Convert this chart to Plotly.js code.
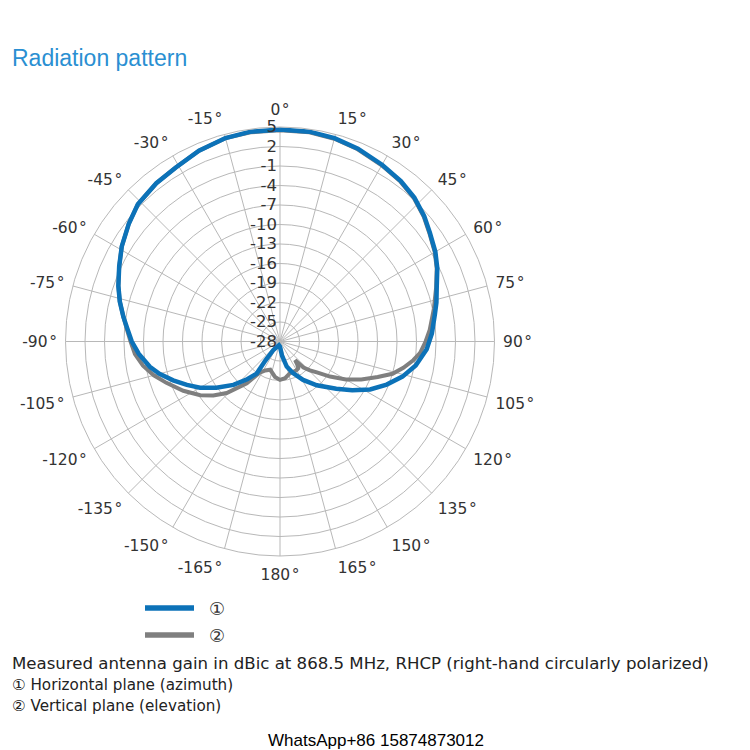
<!DOCTYPE html>
<html>
<head>
<meta charset="utf-8">
<script src="https://cdn.plot.ly/plotly-3.0.1.min.js"></script>
<style>html,body{margin:0;padding:0;background:#fff;}#chart{width:750px;height:750px;}</style>
</head>
<body>
<div id="chart"></div>
<script>
// Horizontal plane (azimuth) — blue, angle in degrees (clockwise from top), gain in dBic
const azimuthAngles = [0, 8, 15, 22, 30, 37, 43, 49, 54, 60, 65, 71, 76, 80, 87, 93, 100, 106, 112, 118, 124, 130, 140, 149, 158, 165, 172, 180,
  -164, -155, -146, -142, -142.5, -144, -139, -133, -126, -120, -115, -110, -105, -101, -95, -90, -85, -81, -76, -71, -65, -59, -52, -46, -38, -31, -23, -15, -8, 0];
const azimuthGain = [4.6, 4.6, 4.4, 4.0, 3.4, 2.9, 2.3, 1.4, 0.5, -0.4, -1.3, -2.5, -3.2, -3.8, -4.6, -5.4, -6.8, -8.4, -10.3, -12.3, -14.6, -16.7, -19.2, -21.1, -22.8, -24.0, -25.8, -27.2,
  -27.4, -27.2, -26.8, -26.3, -24.3, -21.9, -20.3, -18.2, -15.9, -13.8, -12.2, -10.5, -8.8, -7.6, -6.2, -5.2, -4.4, -3.6, -2.6, -1.7, -0.7, 0.4, 1.5, 2.4, 2.9, 3.2, 3.9, 4.4, 4.6, 4.6];

// Vertical plane (elevation) — grey
const elevationAngles = [0, 8, 15, 22, 30, 37, 43, 49, 54, 60, 65, 71, 78, 85.6, 90, 94.8, 98, 102, 106, 110, 115, 120, 125, 130, 134, 138, 141, 143, 146, 150, 156, 162.5, 172, 180,
  -172, -161, -153, -147, -141.5, -134, -129, -124, -117, -110, -105, -100, -95, -90, -85, -81, -76, -71, -65, -59, -52, -46, -38, -31, -23, -15, -8, 0];
const elevationGain = [4.5, 4.5, 4.3, 3.9, 3.3, 2.8, 2.2, 1.3, 0.4, -0.5, -1.4, -2.6, -3.8, -4.9, -5.6, -6.4, -7.3, -8.6, -10.0, -12.0, -14.2, -16.3, -18.6, -20.6, -21.6, -22.6, -24.3, -23.6, -23.0, -22.9, -22.9, -22.9, -22.3, -22.1,
  -22.5, -23.4, -23.0, -22.3, -19.8, -16.6, -14.8, -13.2, -11.3, -9.4, -7.9, -6.6, -5.6, -5.0, -4.3, -3.6, -2.6, -1.7, -0.7, 0.4, 1.5, 2.4, 2.9, 3.2, 3.9, 4.4, 4.5, 4.5];

const radialTicks = [-28, -25, -22, -19, -16, -13, -10, -7, -4, -1, 2, 5];
const angleTickVals = [0, 15, 30, 45, 60, 75, 90, 105, 120, 135, 150, 165, 180, 195, 210, 225, 240, 255, 270, 285, 300, 315, 330, 345];
const angleTickText = ['0°', '15°', '30°', '45°', '60°', '75°', '90°', '105°', '120°', '135°', '150°', '165°', '180°',
  '-165°', '-150°', '-135°', '-120°', '-105°', '-90°', '-75°', '-60°', '-45°', '-30°', '-15°'];

const seriesNames = ['①', '②'];
const titleText = 'Radiation pattern';
const captionText = 'Measured antenna gain in dBic at 868.5 MHz, RHCP (right-hand circularly polarized)';
const noteLines = ['① Horizontal plane (azimuth)', '② Vertical plane (elevation)'];
const footerText = 'WhatsApp+86 15874873012';

const BLUE = '#0c72b8';
const GREY = '#7f7f7f';
const TXT = '#333333';
const FONT = 'Liberation Sans, Arial, sans-serif';
const WIDE = 'DejaVu Sans, Liberation Sans, sans-serif';

// degree sign set slightly apart, as in the reference
const spacedTicks = angleTickText.map(t => t.replace('°', '\u200A°'));

const traces = [
  {type: 'scatterpolar', mode: 'lines', r: elevationGain, theta: elevationAngles, name: seriesNames[1],
   line: {color: GREY, width: 4}, showlegend: false, hoverinfo: 'skip'},
  {type: 'scatterpolar', mode: 'lines', r: azimuthGain, theta: azimuthAngles, name: seriesNames[0],
   line: {color: BLUE, width: 4.5}, showlegend: false, hoverinfo: 'skip'}
];

const layout = {
  width: 750, height: 750,
  margin: {l: 0, r: 0, t: 0, b: 0},
  paper_bgcolor: '#fff',
  showlegend: false,
  font: {family: FONT, color: TXT},
  polar: {
    domain: {x: [65.5/750, 494.5/750], y: [1 - 556/750, 1 - 127/750]},
    bgcolor: '#fff',
    radialaxis: {
      range: [-28, 5], tickmode: 'array', tickvals: radialTicks, ticktext: radialTicks.map(String),
      angle: 90, tickangle: 90, side: 'counterclockwise', showline: false, ticks: '',
      gridcolor: '#b8b8b8', gridwidth: 1, tickfont: {size: 16.5, color: TXT, family: WIDE}
    },
    angularaxis: {
      rotation: 90, direction: 'clockwise', tickmode: 'array', tickvals: angleTickVals, ticktext: spacedTicks,
      gridcolor: '#b8b8b8', gridwidth: 1, linecolor: '#b8b8b8', linewidth: 1,
      ticks: 'outside', ticklen: 5, tickcolor: 'rgba(0,0,0,0)',
      tickfont: {size: 15.5, color: TXT, family: WIDE}
    }
  },
  shapes: [
    {type: 'line', xref: 'paper', yref: 'paper', x0: 145/750, x1: 194/750, y0: 1 - 608/750, y1: 1 - 608/750, line: {color: BLUE, width: 5.5}},
    {type: 'line', xref: 'paper', yref: 'paper', x0: 145/750, x1: 194/750, y0: 1 - 635/750, y1: 1 - 635/750, line: {color: GREY, width: 5.5}}
  ],
  annotations: [
    {text: titleText, xref: 'paper', yref: 'paper', x: 10/750, y: 1 - 58/750, xanchor: 'left', yanchor: 'middle', showarrow: false,
     font: {size: 23, color: '#2a8fd2', family: FONT}},
    {text: seriesNames[0], xref: 'paper', yref: 'paper', x: 207/750, y: 1 - 608/750, xanchor: 'left', yanchor: 'middle', showarrow: false,
     font: {size: 18, color: TXT, family: WIDE}},
    {text: seriesNames[1], xref: 'paper', yref: 'paper', x: 207/750, y: 1 - 635/750, xanchor: 'left', yanchor: 'middle', showarrow: false,
     font: {size: 18, color: TXT, family: WIDE}},
    {text: captionText, xref: 'paper', yref: 'paper', x: 10/750, y: 1 - 663/750, xanchor: 'left', yanchor: 'middle', showarrow: false,
     font: {size: 16.6, color: '#222', family: WIDE}},
    {text: noteLines[0], xref: 'paper', yref: 'paper', x: 10/750, y: 1 - 685/750, xanchor: 'left', yanchor: 'middle', showarrow: false,
     font: {size: 15.2, color: '#222', family: WIDE}},
    {text: noteLines[1], xref: 'paper', yref: 'paper', x: 10/750, y: 1 - 706/750, xanchor: 'left', yanchor: 'middle', showarrow: false,
     font: {size: 15.2, color: '#222', family: WIDE}},
    {text: footerText, xref: 'paper', yref: 'paper', x: 376/750, y: 1 - 740/750, xanchor: 'center', yanchor: 'middle', showarrow: false,
     font: {size: 17, color: '#000', family: FONT}}
  ]
};

Plotly.newPlot('chart', traces, layout, {displayModeBar: false, staticPlot: true});
</script>
</body>
</html>
